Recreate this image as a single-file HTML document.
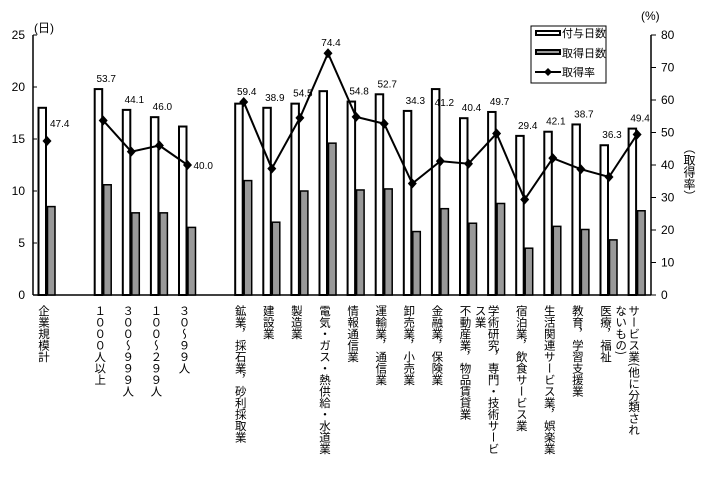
<!DOCTYPE html>
<html><head><meta charset="utf-8"><style>
body{margin:0;background:#fff;}
#wrap{position:relative;width:704px;height:479px;overflow:hidden;font-family:"Liberation Sans","Noto Sans CJK JP",sans-serif;}
.xl{position:absolute;top:305px;writing-mode:vertical-rl;font-size:11.5px;line-height:13px;font-family:"Noto Sans CJK JP","WenQuanYi Zen Hei",sans-serif;white-space:nowrap;}
svg text{font-family:"Liberation Sans","Noto Sans CJK JP",sans-serif;}
</style></head><body>
<div id="wrap">
<svg id="svg" width="704" height="479"></svg>
</div>
<script>
const categories=["企業規模計","","１０００人以上","３００～９９９人","１００～２９９人","３０～９９人","","鉱業，採石業，砂利採取業","建設業","製造業","電気・ガス・熱供給・水道業","情報通信業","運輸業，通信業","卸売業，小売業","金融業，保険業","不動産業，物品賃貸業","学術研究，専門・技術サービ|ス業","宿泊業，飲食サービス業","生活関連サービス業，娯楽業","教育，学習支援業","医療，福祉","サービス業(他に分類され|ないもの)"];
const grantedDays=[18.0,null,19.8,17.8,17.1,16.2,null,18.4,18.0,18.4,19.6,18.6,19.3,17.7,19.8,17.0,17.6,15.3,15.7,16.4,14.4,16.0];
const takenDays=[8.5,null,10.6,7.9,7.9,6.5,null,11.0,7.0,10.0,14.6,10.1,10.2,6.1,8.3,6.9,8.8,4.5,6.6,6.3,5.3,8.1];
const rates=[47.4,null,53.7,44.1,46.0,40.0,null,59.4,38.9,54.5,74.4,54.8,52.7,34.3,41.2,40.4,49.7,29.4,42.1,38.7,36.3,49.4];
const leftTicks=[0,5,10,15,20,25];
const rightTicks=[0,10,20,30,40,50,60,70,80];

const NS="http://www.w3.org/2000/svg";
const svg=document.getElementById('svg');
const wrap=document.getElementById('wrap');
const X0=47,STEP=28.1,Y0=295,YT=35,LX=33,RX=651;
const xs=i=>X0+STEP*i;
const yL=v=>Y0-(Y0-YT)*v/25;
const yR=v=>Y0-(Y0-YT)*v/80;
function mk(tag,attrs,txt){const e=document.createElementNS(NS,tag);for(const k in attrs)e.setAttribute(k,attrs[k]);if(txt!=null)e.textContent=txt;svg.appendChild(e);return e;}

let a=mk('line',{x1:LX,y1:YT,x2:LX,y2:Y0,stroke:'#000','stroke-width':1.5});

a=mk('line',{x1:RX,y1:YT,x2:RX,y2:Y0,stroke:'#000','stroke-width':1.5});

a=mk('line',{x1:LX,y1:Y0,x2:RX,y2:Y0,stroke:'#000','stroke-width':1.5});

leftTicks.forEach(t=>{
  let l=mk('line',{x1:LX,y1:yL(t),x2:LX+4,y2:yL(t),stroke:'#000'});
  
  let tx=mk('text',{x:LX-8,y:yL(t)+4,'text-anchor':'end','font-size':12},t);
  
});
rightTicks.forEach(t=>{
  let l=mk('line',{x1:RX,y1:yR(t),x2:RX+5,y2:yR(t),stroke:'#000'});
  
  let tx=mk('text',{x:RX+10,y:yR(t)+4,'font-size':12},t);
  
});
a=mk('text',{x:34,y:32,'font-size':12},'(日)');
a=mk('text',{x:641,y:20,'font-size':12},'(%)');

categories.forEach((c,i)=>{
  if(grantedDays[i]==null)return;
  const cx=xs(i);
  let b=mk('rect',{x:cx-8.5,y:yL(grantedDays[i]),width:7.5,height:Y0-yL(grantedDays[i]),fill:'#fff',stroke:'#000','stroke-width':2});
  
  b=mk('rect',{x:cx+0.5,y:yL(takenDays[i]),width:7.5,height:Y0-yL(takenDays[i]),fill:'#999',stroke:'#000','stroke-width':1.5});
  
});
function seg(idx){
  const pts=idx.map(i=>xs(i)+','+yR(rates[i])).join(' ');
  let p=mk('polyline',{points:pts,fill:'none',stroke:'#000','stroke-width':2});
  
}
seg([2,3,4,5]);
seg([7,8,9,10,11,12,13,14,15,16,17,18,19,20,21]);
rates.forEach((r,i)=>{
  if(r==null)return;
  const x=xs(i),y=yR(r);
  let d=mk('polygon',{points:`${x},${y-5} ${x+4.5},${y} ${x},${y+5} ${x-4.5},${y}`,fill:'#000'});
  
  let top=Math.min(y,yL(grantedDays[i]));
  let lx=x+3,ly=top-7,anchor='middle';
  if(i===0){lx=x+3;ly=y-14;anchor='start';}
  if(i===5){lx=x+6;ly=y+4;anchor='start';}
  if(i===14){ly=y-55;lx=x+4;}
  let t=mk('text',{x:lx,y:ly,'text-anchor':anchor,'font-size':10},r.toFixed(1));
  
});

let lg=mk('rect',{x:531,y:26,width:75,height:57,fill:'#fff',stroke:'#000'});

let s=mk('rect',{x:536,y:31,width:24,height:4,fill:'#fff',stroke:'#000','stroke-width':2});

s=mk('rect',{x:536,y:50,width:24,height:4,fill:'#999',stroke:'#000','stroke-width':2});

s=mk('line',{x1:535,y1:72,x2:561,y2:72,stroke:'#000','stroke-width':2});

s=mk('polygon',{points:'548,68 552,72 548,76 544,72',fill:'#000'});

[['付与日数',37],['取得日数',57],['取得率',76]].forEach(([t,y])=>{
  let e=mk('text',{x:562,y:y,'font-size':11},t);
  
});

const rt=document.createElement('div');
rt.textContent='（取得率）';
rt.style.cssText='position:absolute;left:683px;top:142px;writing-mode:vertical-rl;font-size:12px;line-height:13px;font-family:"Noto Sans CJK JP",sans-serif;';


wrap.appendChild(rt);

categories.forEach((c,i)=>{
  if(!c)return;
  const d=document.createElement('div');
  d.className='xl';
  const parts=c.split('|');
  d.innerHTML=parts.join('<br>');
  const cols=parts.length;
  d.style.left=(xs(i)-10-(cols-1)*13)+'px';
  
  
  wrap.appendChild(d);
});
</script>
</body></html>
